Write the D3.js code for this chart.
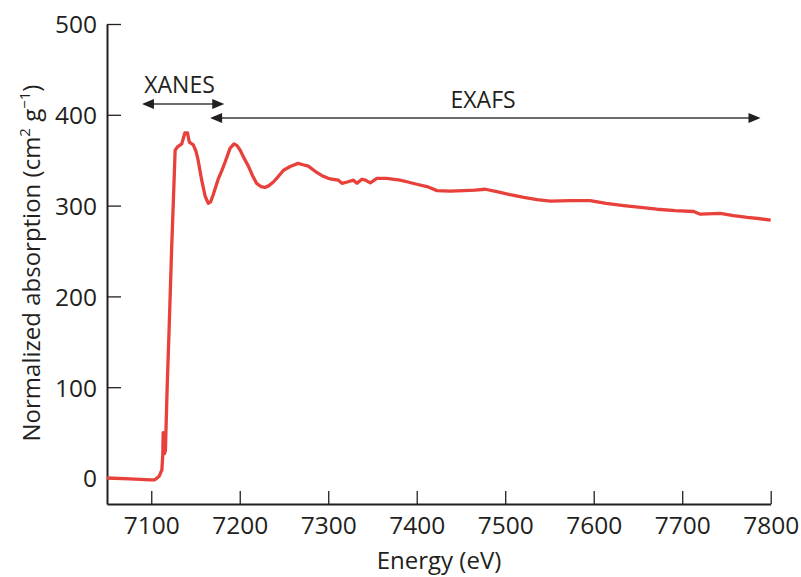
<!DOCTYPE html>
<html>
<head>
<meta charset="utf-8">
<title>XANES / EXAFS</title>
<script src="https://cdn.jsdelivr.net/npm/d3@7"></script>
<style>
	body { margin: 0; background: white; }
	svg text { font-family: "Open Sans", sans-serif; fill: #231f20; }
	.tick line { stroke: #231f20; stroke-width: 1.3px; }
	.domain { stroke: #231f20; stroke-width: 2px; }
</style>
</head>
<body>
<svg id="chart" width="801" height="577"></svg>
<script>

	// absorption spectrum
	var energy = [7050, 7076, 7099, 7104, 7109, 7112, 7113, 7113.5, 7114.5, 7115, 7116, 7118, 7120,
		7123, 7125, 7127, 7130, 7134.5, 7136.5, 7138, 7141, 7143, 7147.5, 7150.5, 7153, 7157,
		7161, 7164.5, 7167, 7170, 7176, 7179.5, 7183.5, 7189, 7193.5, 7197, 7200.5, 7205, 7210,
		7214.5, 7219, 7224, 7228.5, 7233, 7238, 7243.5, 7249.5, 7257, 7266, 7271.5, 7277.5, 7287,
		7293, 7300, 7305.5, 7311.5, 7315.5, 7321.5, 7328.5, 7332.5, 7338, 7342, 7347.5, 7355, 7366,
		7381, 7390, 7400, 7411.5, 7423, 7438, 7453, 7466, 7477.5, 7490.5, 7505.5, 7521, 7536, 7551,
		7573.5, 7596, 7614, 7634, 7653, 7671.5, 7692, 7713, 7720.5, 7743, 7758, 7773.5, 7788.5, 7800];
	var absorption = [0, -1, -2, -2, 2, 9, 25, 50, 45, 27, 30, 100, 158,
		251, 305, 361, 365, 368, 375, 380, 380, 370, 367, 360, 350, 328,
		310, 302.5, 304, 312, 330, 338, 348, 363, 368, 366, 361, 352, 343,
		333, 324.5, 321, 320, 322, 326, 332, 339, 343, 346.5, 345, 343.5, 336.5,
		333, 330, 329, 328, 324.5, 326, 328, 324.5, 329, 328, 325, 330, 330,
		328, 326, 323.5, 321, 316.5, 316, 316.5, 317, 318, 315.5, 312, 309, 306.5, 305,
		305.5, 305.5, 302.5, 300, 298, 296, 294.5, 293.5, 290.5, 291.5, 289, 287, 285.5, 284];

	var xTicks = [7100, 7200, 7300, 7400, 7500, 7600, 7700, 7800];
	var yTicks = [0, 100, 200, 300, 400, 500];

	// spectral regions marked with arrows
	var regions = [
		{ name: "XANES", from: 7089.5, to: 7182.5, level: 412, labelAt: 7132, labelLevel: 424 },
		{ name: "EXAFS", from: 7166.5, to: 7788.5, level: 396.5, labelAt: 7475, labelLevel: 408 }
	];

	var svg = d3.select("#chart");

	var x = d3.scaleLinear().domain([7050, 7800]).range([107, 770.7]);
	var y = d3.scaleLinear().domain([0, 500]).range([478, 24]);
	var yBottom = y.invert(504);

	var data = energy.map((e, i) => ({ e: e, a: absorption[i] }));

	// x axis, ticks pointing up
	var xAxis = svg.append("g")
		.attr("transform", "translate(0,504)")
		.call(d3.axisBottom(x).tickValues(xTicks).tickSizeInner(-13).tickSizeOuter(0).tickPadding(0).tickFormat(d3.format("d")));
	xAxis.selectAll("text")
		.attr("y", 30).attr("dy", null)
		.style("font-size", "24.5px");

	// y axis, ticks pointing right
	var yScaleFull = y.copy().domain([yBottom, 500]).range([504, 24]);
	var yAxis = svg.append("g")
		.attr("transform", "translate(107,0)")
		.call(d3.axisLeft(yScaleFull).tickValues(yTicks).tickSizeInner(-14).tickSizeOuter(0).tickPadding(10));
	yAxis.selectAll("text")
		.attr("x", -10).attr("dy", "0.36em")
		.style("font-size", "24.5px");

	// axis titles
	svg.append("text")
		.attr("x", 439).attr("y", 569)
		.attr("text-anchor", "middle")
		.style("font-size", "24px")
		.text("Energy (eV)");

	var ytitle = svg.append("text")
		.attr("transform", "translate(40,263) rotate(-90)")
		.attr("text-anchor", "middle")
		.style("font-size", "24px");
	ytitle.append("tspan").text("Normalized absorption (cm");
	ytitle.append("tspan").attr("baseline-shift", "super").style("font-size", "15px").text("2");
	ytitle.append("tspan").text(" g");
	ytitle.append("tspan").attr("baseline-shift", "super").style("font-size", "15px").text("\u22121");
	ytitle.append("tspan").text(")");

	// spectrum
	svg.append("path")
		.datum(data)
		.attr("fill", "none")
		.attr("stroke", "#e8403a")
		.attr("stroke-width", 3.3)
		.attr("stroke-linejoin", "round")
		.attr("d", d3.line().x(d => x(d.e)).y(d => y(d.a)));

	// region arrows
	var head = 12, half = 5;
	regions.forEach(function(r) {
		var x0 = x(r.from), x1 = x(r.to), yy = y(r.level);
		var g = svg.append("g");
		g.append("line")
			.attr("x1", x0 + head - 1).attr("x2", x1 - head + 1)
			.attr("y1", yy).attr("y2", yy)
			.attr("stroke", "#3a3a3a").attr("stroke-width", 1.5);
		g.append("path")
			.attr("fill", "#231f20")
			.attr("d", `M${x0},${yy}L${x0 + head},${yy - half}L${x0 + head},${yy + half}Z`);
		g.append("path")
			.attr("fill", "#231f20")
			.attr("d", `M${x1},${yy}L${x1 - head},${yy - half}L${x1 - head},${yy + half}Z`);
		g.append("text")
			.attr("x", x(r.labelAt)).attr("y", y(r.labelLevel))
			.attr("text-anchor", "middle")
			.style("font-size", "23px")
			.text(r.name);
	});

</script>
</body>
</html>
